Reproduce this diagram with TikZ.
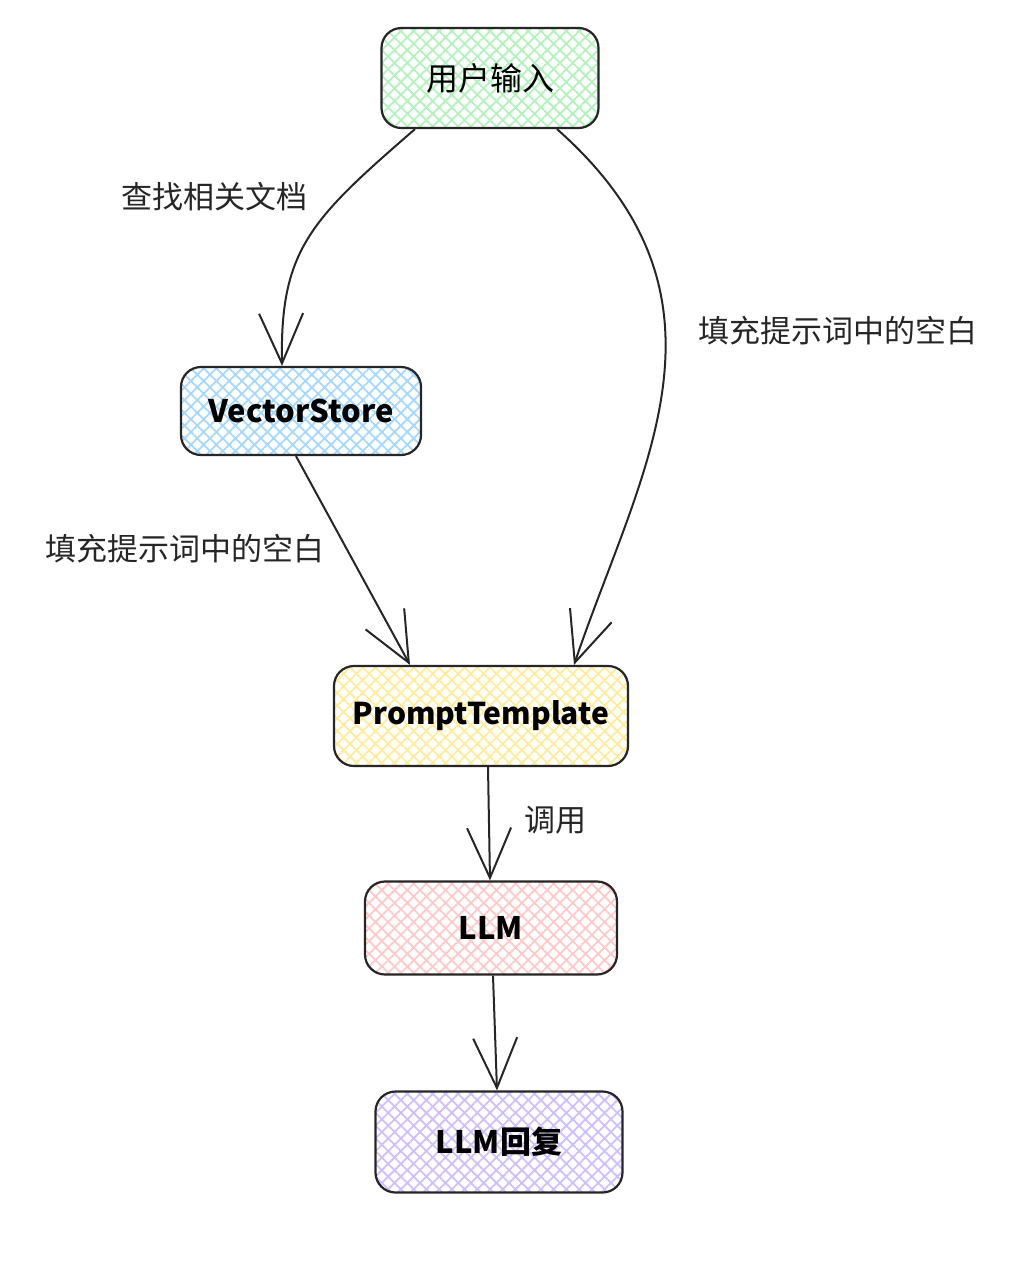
\documentclass[tikz,border=0pt]{standalone}
\usepackage{fontspec}
\setmainfont{Noto Sans CJK SC}
\usepackage{tikz}
\usetikzlibrary{arrows.meta,patterns.meta,positioning}

\definecolor{hgreen}{HTML}{B2F2BB}
\definecolor{hblue}{HTML}{A5D8FF}
\definecolor{hyellow}{HTML}{FFEC99}
\definecolor{hred}{HTML}{FFC9C9}
\definecolor{hpurple}{HTML}{D0BFFF}

\tikzset{
  block/.style={draw=black!85, line width=2.2pt, rounded corners=20pt, inner sep=0pt,
    font=\fontsize{31}{36}\selectfont,
    preaction={pattern={Hatch[angle=45,distance=9pt,line width=1.8pt]}, pattern color=#1}},
  lbl/.style={font=\fontsize{31}{36}\selectfont, text=black!85},
  flow/.style={line width=2pt, draw=black!85, -{Straight Barb[length=50pt,width=44pt]}},
}

\begin{document}
\begin{tikzpicture}[x=1pt,y=1pt]
      \useasboundingbox (0,0) rectangle (1022,-1272);

      \node[block=hgreen, minimum width=217pt, minimum height=100pt] (input) at (490,-78) {\fontsize{32}{36}\selectfont 用户输入};
      \node[block=hblue, minimum width=240pt, minimum height=88pt] (store) at (301,-411) {\bfseries VectorStore};
      \node[block=hyellow, minimum width=294pt, minimum height=100pt] (prompt) at (481,-716) {\fontsize{30}{36}\selectfont\bfseries PromptTemplate};
      \node[block=hred, minimum width=252pt, minimum height=93pt] (llm) at (491,-928) {\bfseries LLM};
      \node[block=hpurple, minimum width=247pt, minimum height=101pt] (reply) at (499,-1142) {\bfseries LLM回复};

      \node[lbl] (l1) at (214,-197) {查找相关文档};
      \node[lbl] (l2) at (838,-331) {填充提示词中的空白};
      \node[lbl] (l3) at (185,-549) {填充提示词中的空白};
      \node[lbl] (l4) at (555,-820) {调用};

      \draw[flow] ([xshift=-75pt]input.south)
        .. controls (310,-220) and (280,-250) .. ([xshift=-19pt]store.north);
      \draw[flow] ([xshift=67pt]input.south)
        .. controls (750,-300) and (640,-470) .. ([xshift=93pt]prompt.north);
      \draw[flow] ([xshift=-5pt]store.south) -- ([xshift=-71pt]prompt.north);
      \draw[flow] ([xshift=7pt]prompt.south) -- ([xshift=-1pt]llm.north);
      \draw[flow] ([xshift=2pt]llm.south) -- ([xshift=-2pt]reply.north);
    \end{tikzpicture}
\end{document}
